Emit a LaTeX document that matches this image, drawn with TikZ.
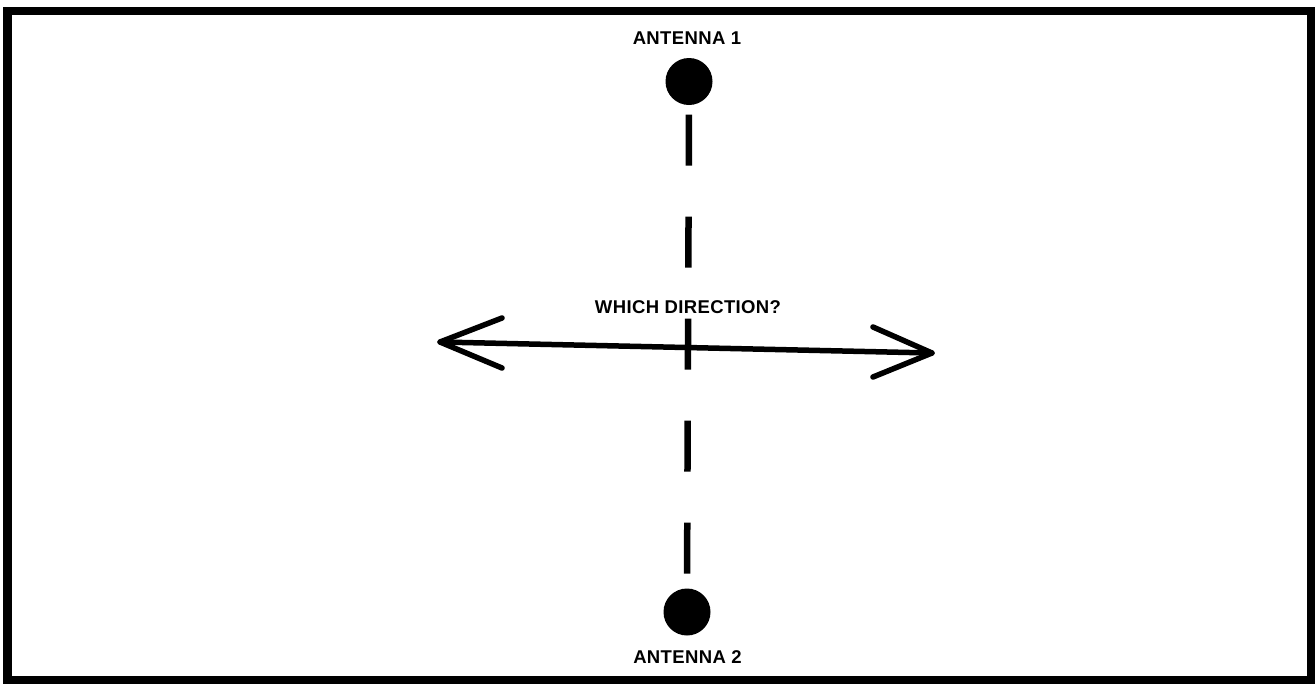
\documentclass[tikz,border=0pt]{standalone}
\usepackage{fontspec}
\setmainfont{Liberation Sans}
\newfontfamily\lblfont[LetterSpace=2]{Liberation Sans}
\begin{document}
\begin{tikzpicture}[x=1pt,y=-1pt,
  antenna/.style={circle,fill=black,draw=none,minimum size=47pt,inner sep=0pt},
  lbl/.style={font=\lblfont\fontsize{18.5}{20}\selectfont\bfseries,inner sep=0pt},
  link/.style={line width=6.5pt,dash pattern=on 51pt off 51pt,dash phase=92.5pt},
  dirline/.style={line width=5.5pt,line cap=round,line join=round}]
\useasboundingbox (0,0) rectangle (1315,683);
\draw[line width=8.5pt] (7.5,11) rectangle (1311,680);
\node[antenna] (ant1) at (689,81.5) {};
\node[antenna] (ant2) at (687,612) {};
\node[lbl] (lab1) at (687,38) {ANTENNA 1};
\node[lbl] (lab2) at (687.5,657) {ANTENNA 2};
\node[lbl] (q) at (688,307) {WHICH DIRECTION?};
\draw[link] (ant1.south) -- (ant2.north);
\coordinate (L) at (440,342);
\coordinate (R) at (932,353);
\draw[dirline] (L) -- (R);
\draw[dirline] (502,318) -- (L) -- (502,368);
\draw[dirline] (873,327) -- (R) -- (873,377);
\end{tikzpicture}
\end{document}
